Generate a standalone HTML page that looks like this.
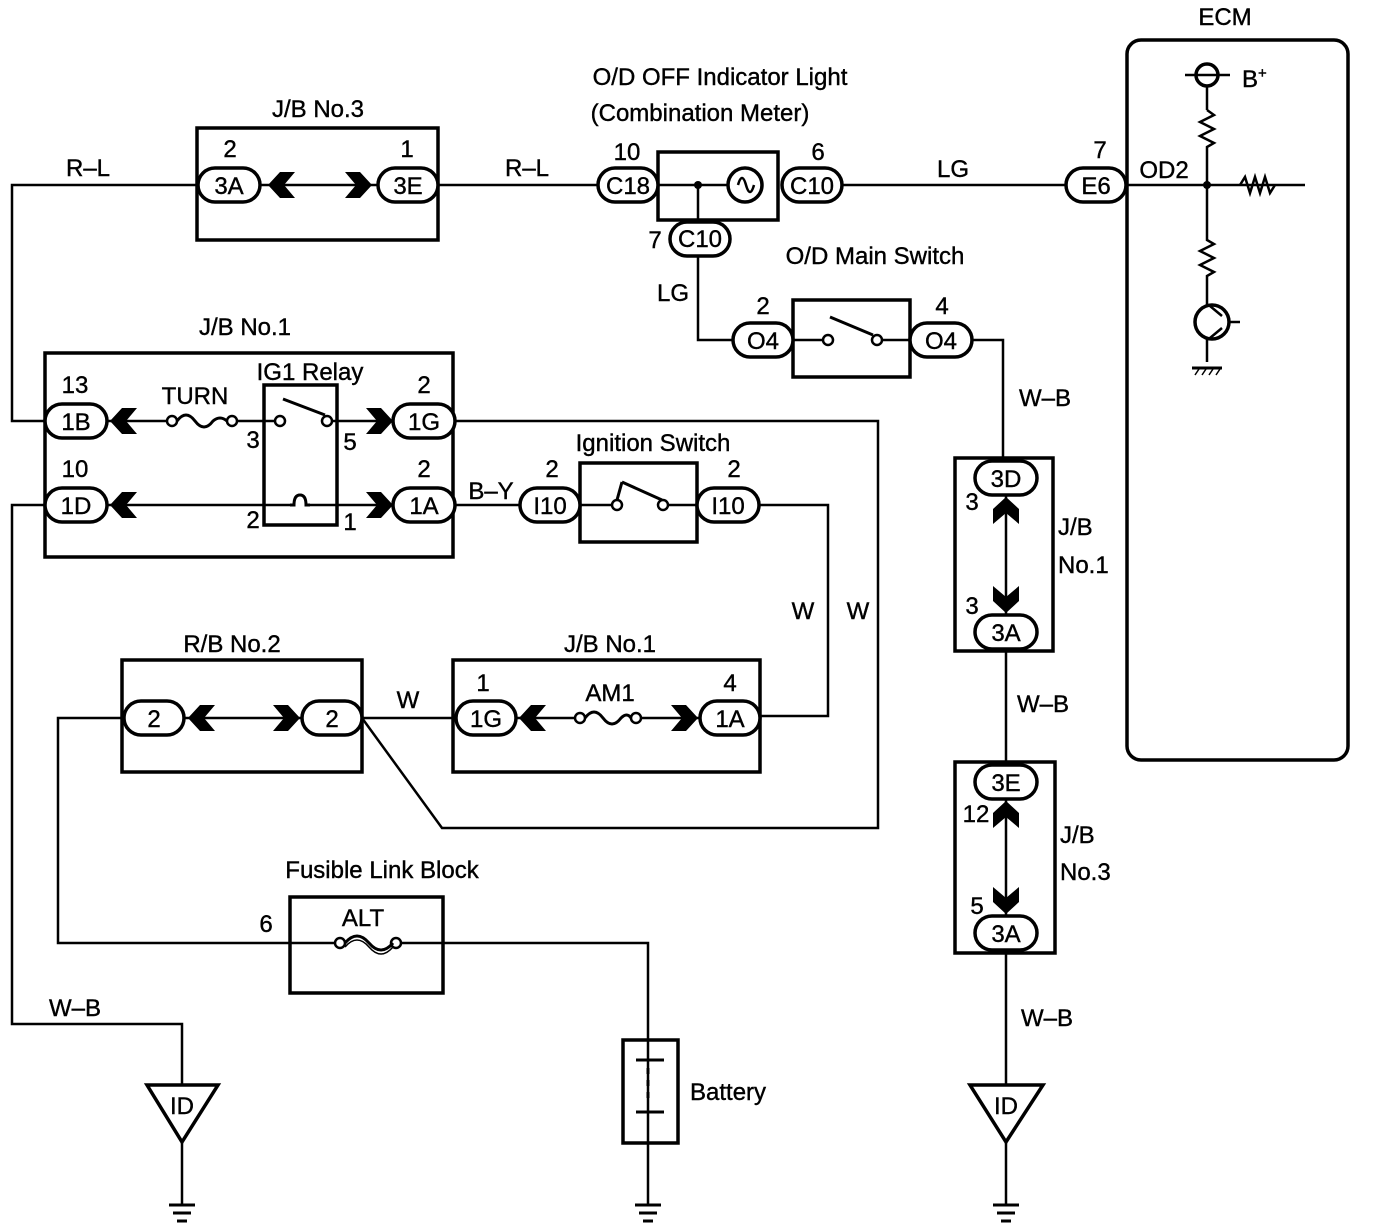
<!DOCTYPE html>
<html><head><meta charset="utf-8"><style>
html,body{margin:0;padding:0;background:#fff}
svg{display:block}
text{font-family:"Liberation Sans",Arial,sans-serif;font-size:24px;fill:#000;stroke:#000;stroke-width:0.4}
</style></head><body>
<svg width="1376" height="1232" viewBox="0 0 1376 1232" xmlns="http://www.w3.org/2000/svg">
<defs>
<polygon id="cl" points="0,0 12,-13 27,-13 16,0 27,13 12,13" fill="#000"/>
<polygon id="cr" points="0,0 -12,-13 -27,-13 -16,0 -27,13 -12,13" fill="#000"/>
<polygon id="cu" points="0,0 -13,12 -13,27 0,16 13,27 13,12" fill="#000"/>
<polygon id="cd" points="0,0 -13,-12 -13,-27 0,-16 13,-27 13,-12" fill="#000"/>
<g id="gnd" stroke="#000" stroke-width="3"><line x1="-13" y1="0" x2="13" y2="0"/><line x1="-9" y1="8" x2="9" y2="8"/><line x1="-5" y1="16" x2="5" y2="16"/></g>
</defs>
<g fill="none" stroke="#000" stroke-width="2.5">
<polyline points="198,185 12,185 12,421 45,421"/>
<line x1="260" y1="185" x2="378" y2="185"/>
<line x1="438" y1="185" x2="598" y2="185"/>
<line x1="658" y1="185" x2="728" y2="185"/>
<line x1="842" y1="185" x2="1066" y2="185"/>
<line x1="1126" y1="185" x2="1305" y2="185"/>
<polyline points="698,185 698,340 733,340"/>
<line x1="793" y1="340" x2="822" y2="340"/>
<line x1="882" y1="340" x2="910" y2="340"/>
<polyline points="972,340 1003,340 1003,460"/>
<line x1="1006" y1="495" x2="1006" y2="615"/>
<line x1="1006" y1="650" x2="1006" y2="765"/>
<line x1="1006" y1="800" x2="1006" y2="915"/>
<line x1="1006" y1="952" x2="1006" y2="1085"/>
<line x1="1006" y1="1142" x2="1006" y2="1205"/>
<line x1="107" y1="421" x2="168" y2="421"/>
<line x1="236" y1="421" x2="276" y2="421"/>
<line x1="331" y1="421" x2="393" y2="421"/>
<polyline points="455,421 878,421 878,828 442,828 362,718"/>
<line x1="107" y1="505" x2="290" y2="505"/>
<line x1="310" y1="505" x2="393" y2="505"/>
<polyline points="45,505 12,505 12,1024 182,1024 182,1085"/>
<line x1="182" y1="1142" x2="182" y2="1205"/>
<line x1="455" y1="505" x2="520" y2="505"/>
<line x1="580" y1="505" x2="612" y2="505"/>
<line x1="668" y1="505" x2="697" y2="505"/>
<polyline points="759,505 828,505 828,716 760,716"/>
<line x1="184" y1="718" x2="302" y2="718"/>
<line x1="362" y1="718" x2="456" y2="718"/>
<line x1="516" y1="718" x2="576" y2="718"/>
<line x1="640" y1="718" x2="700" y2="718"/>
<polyline points="124,718 58,718 58,943 336,943"/>
<polyline points="400,943 648,943 648,1205"/>
<line x1="1207" y1="86" x2="1207" y2="110"/>
<polyline points="1207,110 1214,115 1200,122 1214,129 1200,136 1214,143 1207,147 1207,240 1214,244 1200,251 1214,258 1200,265 1214,272 1207,276 1207,306"/>
<polyline points="1240,185 1245,177 1250,193 1255,177 1260,193 1265,177 1270,193 1275,185"/>
<line x1="1185" y1="75" x2="1230" y2="75"/>
<line x1="1228" y1="322" x2="1240" y2="322"/>
<line x1="1207" y1="338" x2="1207" y2="362"/>
<line x1="1210" y1="306" x2="1222" y2="316"/>
<line x1="1210" y1="338" x2="1222" y2="328"/>
</g>
<g fill="none" stroke="#000" stroke-width="3.5">
<rect x="197" y="128" width="241" height="112"/>
<rect x="658" y="152" width="120" height="68"/>
<rect x="1127" y="40" width="221" height="720" rx="14"/>
<rect x="793" y="300" width="117" height="77"/>
<rect x="45" y="353" width="408" height="204"/>
<rect x="264" y="385" width="73" height="140"/>
<rect x="580" y="463" width="117" height="79"/>
<rect x="955" y="458" width="98" height="193"/>
<rect x="955" y="762" width="100" height="191"/>
<rect x="122" y="660" width="240" height="112"/>
<rect x="453" y="660" width="307" height="112"/>
<rect x="290" y="897" width="153" height="96"/>
<rect x="623" y="1040" width="55" height="103"/>
<rect x="198" y="168" width="62" height="34" rx="17" fill="#fff"/>
<rect x="378" y="168" width="60" height="34" rx="17" fill="#fff"/>
<rect x="598" y="168" width="60" height="34" rx="17" fill="#fff"/>
<rect x="782" y="168" width="60" height="34" rx="17" fill="#fff"/>
<rect x="1066" y="168" width="60" height="34" rx="17" fill="#fff"/>
<rect x="670" y="222" width="60" height="34" rx="17" fill="#fff"/>
<rect x="733" y="323" width="60" height="34" rx="17" fill="#fff"/>
<rect x="910" y="323" width="62" height="34" rx="17" fill="#fff"/>
<rect x="45" y="404" width="62" height="34" rx="17" fill="#fff"/>
<rect x="393" y="404" width="62" height="34" rx="17" fill="#fff"/>
<rect x="45" y="488" width="62" height="34" rx="17" fill="#fff"/>
<rect x="393" y="488" width="62" height="34" rx="17" fill="#fff"/>
<rect x="520" y="488" width="60" height="34" rx="17" fill="#fff"/>
<rect x="697" y="488" width="62" height="34" rx="17" fill="#fff"/>
<rect x="975" y="461" width="62" height="34" rx="17" fill="#fff"/>
<rect x="975" y="615" width="62" height="34" rx="17" fill="#fff"/>
<rect x="975" y="765" width="62" height="34" rx="17" fill="#fff"/>
<rect x="975" y="916" width="62" height="34" rx="17" fill="#fff"/>
<rect x="124" y="701" width="60" height="34" rx="17" fill="#fff"/>
<rect x="302" y="701" width="60" height="34" rx="17" fill="#fff"/>
<rect x="456" y="701" width="60" height="34" rx="17" fill="#fff"/>
<rect x="700" y="701" width="60" height="34" rx="17" fill="#fff"/>
<circle cx="745" cy="185" r="17"/>
<circle cx="1207" cy="75" r="11"/>
<circle cx="1212" cy="322" r="17"/>
<polygon points="147,1085 218,1085 182,1142"/>
<polygon points="970,1085 1043,1085 1006,1142"/>
</g>
<path d="M738,185 q4,-14 8,0 q4,14 8,0" fill="none" stroke="#000" stroke-width="2.5"/>
<g fill="#fff" stroke="#000" stroke-width="2.5">
<circle cx="172" cy="421" r="5"/><circle cx="232" cy="421" r="5"/>
<circle cx="280" cy="421" r="5"/><circle cx="327" cy="421" r="5"/>
<circle cx="828" cy="340" r="5"/><circle cx="877" cy="340" r="5"/>
<circle cx="617" cy="505" r="5"/><circle cx="663" cy="505" r="5"/>
<circle cx="580" cy="718" r="5"/><circle cx="636" cy="718" r="5"/>
<circle cx="340" cy="943" r="5"/><circle cx="396" cy="943" r="5"/>
</g>
<g fill="none" stroke="#000" stroke-width="3">
<path d="M177,421 q9,-12 18,0 q9,12 18,0 q7,-6 14,0"/>
<path d="M585,718 q9,-12 18,0 q9,12 18,0 q6,-6 10,0"/>
<path d="M345,943 q12,-14 24,0 q12,14 24,0"/>
<path d="M345,947 q12,-14 24,0 q12,14 24,0" stroke-width="1.5"/>
<line x1="283" y1="399" x2="325" y2="415"/>
<line x1="830" y1="317" x2="873" y2="335"/>
<line x1="617" y1="500" x2="622" y2="482"/>
<line x1="622" y1="482" x2="662" y2="500"/>
<path d="M290,505 h4 q0,-10 6,-10 q6,0 6,10 h4" />
<line x1="636" y1="1060" x2="664" y2="1060"/>
<line x1="636" y1="1112" x2="664" y2="1112"/>
<line x1="648" y1="1068" x2="648" y2="1104" stroke-dasharray="6,6"/>
<line x1="1192" y1="368" x2="1222" y2="368"/>
</g>
<circle cx="698" cy="185" r="4" fill="#000"/>
<circle cx="1207" cy="185" r="4" fill="#000"/>
<g>
<use href="#cl" x="268" y="185"/><use href="#cr" x="372" y="185"/>
<use href="#cl" x="110" y="421"/><use href="#cr" x="393" y="421"/>
<use href="#cl" x="110" y="505"/><use href="#cr" x="393" y="505"/>
<use href="#cl" x="188" y="718"/><use href="#cr" x="300" y="718"/>
<use href="#cl" x="519" y="718"/><use href="#cr" x="698" y="718"/>
<use href="#cu" x="1006" y="497"/><use href="#cd" x="1006" y="613"/>
<use href="#cu" x="1006" y="801"/><use href="#cd" x="1006" y="914"/>
<use href="#gnd" x="182" y="1205"/><use href="#gnd" x="648" y="1205"/><use href="#gnd" x="1006" y="1205"/>
</g>
<g stroke="#000" stroke-width="1.5"><line x1="1195" y1="375" x2="1199" y2="369"/><line x1="1202" y1="375" x2="1206" y2="369"/><line x1="1209" y1="375" x2="1213" y2="369"/><line x1="1216" y1="375" x2="1220" y2="369"/></g>
<g text-anchor="middle">
<text x="318" y="117">J/B No.3</text>
<text x="88" y="176">R–L</text>
<text x="527" y="176">R–L</text>
<text x="229" y="194">3A</text>
<text x="408" y="194">3E</text>
<text x="230" y="157">2</text>
<text x="407" y="157">1</text>
<text x="720" y="85">O/D OFF Indicator Light</text>
<text x="700" y="121">(Combination Meter)</text>
<text x="628" y="194">C18</text>
<text x="627" y="160">10</text>
<text x="812" y="194">C10</text>
<text x="818" y="160">6</text>
<text x="953" y="177">LG</text>
<text x="1096" y="194">E6</text>
<text x="1100" y="158">7</text>
<text x="1164" y="178">OD2</text>
<text x="1225" y="25">ECM</text>
<text x="700" y="247">C10</text>
<text x="655" y="248">7</text>
<text x="673" y="301">LG</text>
<text x="875" y="264">O/D Main Switch</text>
<text x="763" y="349">O4</text>
<text x="763" y="314">2</text>
<text x="941" y="349">O4</text>
<text x="942" y="314">4</text>
<text x="1045" y="406">W–B</text>
<text x="245" y="335">J/B No.1</text>
<text x="76" y="430">1B</text>
<text x="75" y="393">13</text>
<text x="195" y="404">TURN</text>
<text x="310" y="380">IG1 Relay</text>
<text x="253" y="448">3</text>
<text x="350" y="450">5</text>
<text x="424" y="430">1G</text>
<text x="424" y="393">2</text>
<text x="76" y="514">1D</text>
<text x="75" y="477">10</text>
<text x="253" y="528">2</text>
<text x="350" y="530">1</text>
<text x="424" y="514">1A</text>
<text x="424" y="477">2</text>
<text x="491" y="499">B–Y</text>
<text x="550" y="514">I10</text>
<text x="552" y="477">2</text>
<text x="653" y="451">Ignition Switch</text>
<text x="728" y="514">I10</text>
<text x="734" y="477">2</text>
<text x="803" y="619">W</text>
<text x="858" y="619">W</text>
<text x="1006" y="487">3D</text>
<text x="972" y="510">3</text>
<text x="1006" y="641">3A</text>
<text x="972" y="614">3</text>
<text x="1043" y="712">W–B</text>
<text x="1006" y="791">3E</text>
<text x="976" y="822">12</text>
<text x="1006" y="942">3A</text>
<text x="977" y="914">5</text>
<text x="1047" y="1026">W–B</text>
<text x="232" y="652">R/B No.2</text>
<text x="154" y="727">2</text>
<text x="332" y="727">2</text>
<text x="408" y="708">W</text>
<text x="610" y="652">J/B No.1</text>
<text x="486" y="727">1G</text>
<text x="483" y="691">1</text>
<text x="610" y="701">AM1</text>
<text x="730" y="727">1A</text>
<text x="730" y="691">4</text>
<text x="382" y="878">Fusible Link Block</text>
<text x="363" y="926">ALT</text>
<text x="266" y="932">6</text>
<text x="75" y="1016">W–B</text>
<text x="182" y="1114">ID</text>
<text x="1006" y="1114">ID</text>
</g>
<text x="1058" y="535">J/B</text>
<text x="1058" y="573">No.1</text>
<text x="1060" y="843">J/B</text>
<text x="1060" y="880">No.3</text>
<text x="690" y="1100">Battery</text>
<text x="1242" y="87">B<tspan font-size="15" dy="-9">+</tspan></text>
</svg>
</body></html>
